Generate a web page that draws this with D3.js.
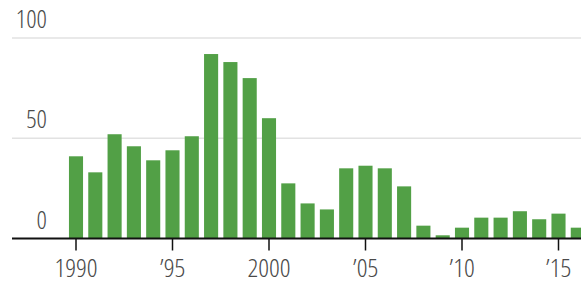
<!DOCTYPE html>
<html>
<head>
<meta charset="utf-8">
<script src="https://cdn.jsdelivr.net/npm/d3@7"></script>
<style>
  body { margin: 0; background: #fff; }
  svg { display: block; }
  .lbl { font-family: "Open Sans", sans-serif; font-weight: 300; font-stretch: 78%; fill: #4a4a4a; }
</style>
</head>
<body>
<div id="graph"></div>
<script>
//Data
const years = [1990, 1991, 1992, 1993, 1994, 1995, 1996, 1997, 1998, 1999,
    2000, 2001, 2002, 2003, 2004, 2005, 2006, 2007, 2008, 2009,
    2010, 2011, 2012, 2013, 2014, 2015, 2016];
const values = [41, 33, 52, 46, 39, 44, 51, 92, 88, 80,
    60, 27.5, 17.5, 14.5, 35, 36.3, 35, 26, 6.4, 1.6,
    5.4, 10.4, 10.4, 13.6, 9.6, 12.4, 5.4];
const yTickValues = [0, 50, 100];
const xTickYears = [1990, 1995, 2000, 2005, 2010, 2015];
const xTickLabels = ['1990', '\u201995', '2000', '\u201905', '\u201910', '\u201915'];

//General config
const width = 581, height = 282;
const step = 19.3;
const firstCenter = 76;

const data = years.map((d, i) => ({ year: d, value: values[i] }));

//Scales
const x = d3.scaleBand()
    .domain(years)
    .range([firstCenter - step / 2, firstCenter - step / 2 + years.length * step])
    .paddingInner(0.27)
    .paddingOuter(0.135);
const y = d3.scaleLinear().domain([0, 100]).range([238.5, 38]);

const svg = d3.select('#graph').append('svg')
    .attr('width', width)
    .attr('height', height);

//Grid lines
svg.append('g')
    .selectAll('line')
    .data(yTickValues.filter(d => d > 0))
    .enter()
    .append('line')
    .attr('x1', 12)
    .attr('x2', width)
    .attr('y1', d => y(d))
    .attr('y2', d => y(d))
    .attr('stroke', '#e2e2e2')
    .attr('stroke-width', 1.5);

//Y labels
svg.append('g')
    .selectAll('text')
    .data(yTickValues)
    .enter()
    .append('text')
    .attr('class', 'lbl')
    .attr('x', 47)
    .attr('y', d => y(d) - 10)
    .attr('text-anchor', 'end')
    .style('font-size', '25.5px')
    .text(d => d);

//Bars
svg.append('g')
    .selectAll('rect')
    .data(data)
    .enter()
    .append('rect')
    .attr('x', d => x(d.year))
    .attr('width', x.bandwidth())
    .attr('y', d => y(d.value))
    .attr('height', d => y(0) - y(d.value))
    .attr('fill', '#52a046');

//X axis
const center = yr => x(yr) + x.bandwidth() / 2;
svg.append('line')
    .attr('x1', 12)
    .attr('x2', width)
    .attr('y1', y(0))
    .attr('y2', y(0))
    .attr('stroke', '#111')
    .attr('stroke-width', 2);

const xt = svg.append('g')
    .selectAll('g')
    .data(xTickYears)
    .enter()
    .append('g')
    .attr('transform', d => `translate(${center(d)},0)`);

xt.append('line')
    .attr('y1', y(0))
    .attr('y2', y(0) + 12)
    .attr('stroke', '#111')
    .attr('stroke-width', 1.5);

xt.append('text')
    .attr('class', 'lbl')
    .attr('y', 276.5)
    .attr('text-anchor', 'middle')
    .style('font-size', '26.5px')
    .text((d, i) => xTickLabels[i]);
</script>
</body>
</html>
